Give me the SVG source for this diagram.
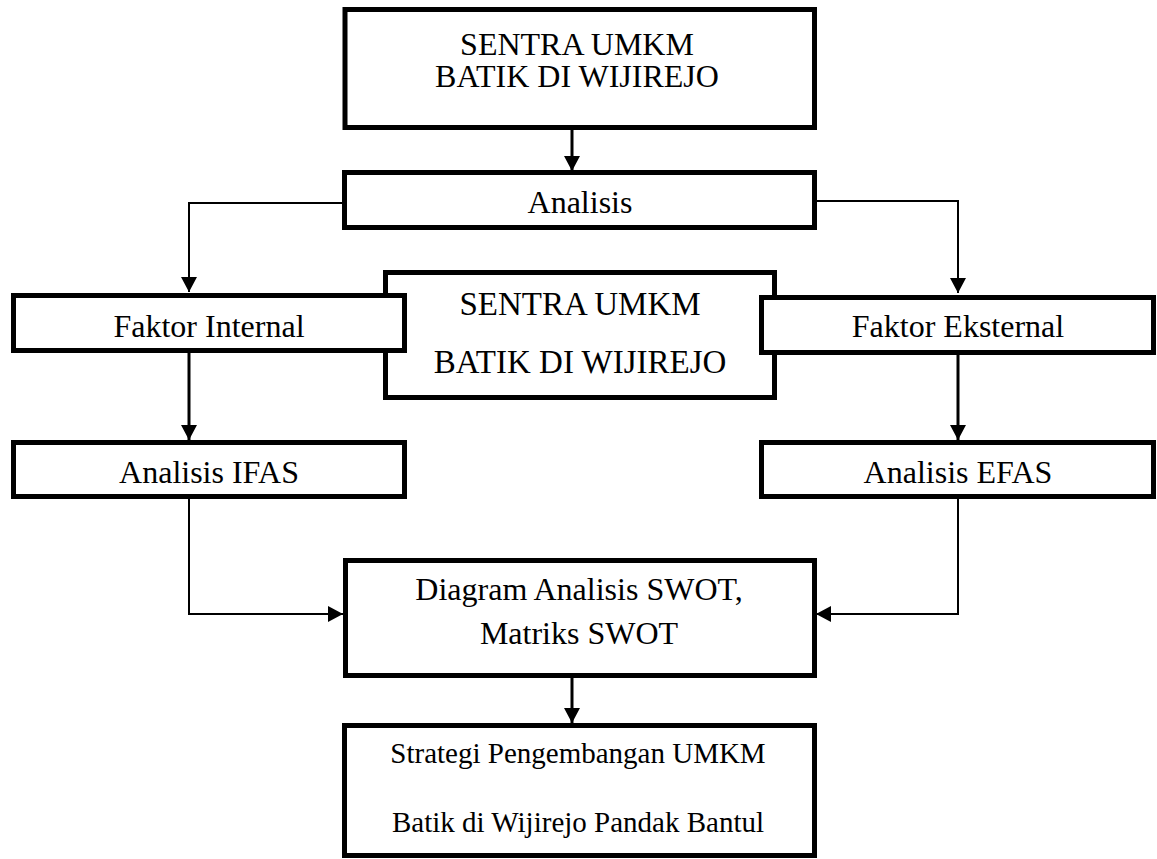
<svg xmlns="http://www.w3.org/2000/svg" width="1157" height="859" viewBox="0 0 1157 859">
<style>
.box{fill:#fff;stroke:#000;stroke-width:5}
.t{font-family:"Liberation Serif","Times New Roman",serif;font-size:32px;fill:#000;text-anchor:middle}
.c{fill:none;stroke:#000;stroke-width:2}
.c3{fill:none;stroke:#000;stroke-width:3}
</style>
<defs>
<marker id="ah" markerWidth="16" markerHeight="16" refX="15" refY="8" orient="auto" markerUnits="userSpaceOnUse">
<path d="M0,0 L15,8 L0,16 z" fill="#000"/>
</marker>
</defs>
<rect width="1157" height="859" fill="#fff"/>
<g id="connectors">
<line class="c3" x1="572" y1="129" x2="572" y2="171" marker-end="url(#ah)"/>
<polyline class="c" points="344,203 189,203 189,292" marker-end="url(#ah)"/>
<polyline class="c" points="815,201 958,201 958,293" marker-end="url(#ah)"/>
<line class="c3" x1="189" y1="353" x2="189" y2="440" marker-end="url(#ah)"/>
<line class="c3" x1="958" y1="355" x2="958" y2="440" marker-end="url(#ah)"/>
<polyline class="c" points="189,499 189,614 343,614" marker-end="url(#ah)"/>
<polyline class="c" points="958,499 958,614 816,614" marker-end="url(#ah)"/>
<line class="c3" x1="572" y1="678" x2="572" y2="723" marker-end="url(#ah)"/>
</g>
<g id="top">
<rect class="box" x="345" y="9.5" width="469.5" height="118"/>
<text class="t" x="577" y="55">SENTRA UMKM</text>
<text class="t" x="577" y="87">BATIK DI WIJIREJO</text>
</g>
<g id="analisis">
<rect class="box" x="344.5" y="172.5" width="470" height="55"/>
<text class="t" x="580" y="213">Analisis</text>
</g>
<g id="center">
<rect class="box" x="385.5" y="272.5" width="389" height="125"/>
<text class="t" x="580" y="315" style="font-size:33px">SENTRA UMKM</text>
<text class="t" x="580" y="373" style="font-size:33px">BATIK DI WIJIREJO</text>
</g>
<g id="internal">
<rect class="box" x="13.5" y="295.5" width="391" height="55"/>
<text class="t" x="209" y="337">Faktor Internal</text>
</g>
<g id="eksternal">
<rect class="box" x="761.5" y="297.5" width="392" height="55"/>
<text class="t" x="958" y="337">Faktor Eksternal</text>
</g>
<g id="ifas">
<rect class="box" x="13.5" y="442.5" width="391" height="54"/>
<text class="t" x="209" y="483">Analisis IFAS</text>
</g>
<g id="efas">
<rect class="box" x="761.5" y="442.5" width="392" height="54"/>
<text class="t" x="958" y="483">Analisis EFAS</text>
</g>
<g id="swot">
<rect class="box" x="345.5" y="560.5" width="469" height="115"/>
<text class="t" x="579" y="600">Diagram Analisis SWOT,</text>
<text class="t" x="579" y="644">Matriks SWOT</text>
</g>
<g id="strategi">
<rect class="box" x="344.5" y="725.5" width="470" height="130"/>
<text class="t" x="578" y="763" style="font-size:29px">Strategi Pengembangan UMKM</text>
<text class="t" x="578" y="832" style="font-size:29px">Batik di Wijirejo Pandak Bantul</text>
</g>
</svg>
